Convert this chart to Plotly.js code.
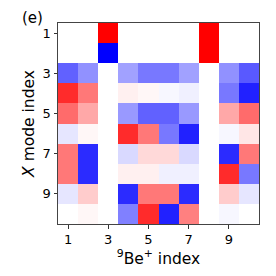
<!DOCTYPE html>
<html><head><meta charset="utf-8">
<script src="https://cdn.plot.ly/plotly-3.0.1.min.js"></script>
<style>body{margin:0;background:#fff}#chart{width:276px;height:276px}</style>
</head><body><div id="chart"></div>
<script>
const ionIndex = [1,2,3,4,5,6,7,8,9,10];
const modeIndex = [1,2,3,4,5,6,7,8,9,10];
const tickVals = [1,3,5,7,9];
const row1  = [0, 0, 1.0, 0, 0, 0, 0, 1.0, 0, 0];
const row2  = [0, 0, -1.0, 0, 0, 0, 0, 1.0, 0, 0];
const row3  = [-0.62, -0.43, 0, -0.37, -0.53, -0.53, -0.37, 0, -0.43, -0.65];
const row4  = [0.83, 0.53, 0, 0.06, 0.03, -0.03, -0.06, 0, -0.53, -0.87];
const row5  = [0.58, 0.34, 0, -0.40, -0.62, -0.62, -0.40, 0, 0.34, 0.58];
const row6  = [-0.10, 0.03, 0, 0.83, 0.53, -0.53, -0.87, 0, -0.03, 0.10];
const row7  = [0.53, -0.83, 0, -0.15, 0.15, 0.15, -0.15, 0, -0.83, 0.53];
const row8  = [0.53, -0.83, 0, 0.06, 0.06, -0.06, -0.06, 0, 0.83, -0.53];
const row9  = [-0.10, 0.20, 0, -0.83, 0.53, 0.53, -0.83, 0, 0.20, -0.10];
const row10 = [0.00, 0.03, 0, -0.50, 0.83, -0.87, 0.50, 0, -0.03, 0.00];
const zValues = [row1,row2,row3,row4,row5,row6,row7,row8,row9,row10];

const font = 'DejaVu Sans, sans-serif';
Plotly.newPlot('chart', [{
  type: 'heatmap',
  x: ionIndex, y: modeIndex, z: zValues,
  zmin: -1, zmax: 1,
  colorscale: [[0,'rgb(0,0,255)'],[0.5,'rgb(255,255,255)'],[1,'rgb(255,0,0)']],
  showscale: false, xgap: 0, ygap: 0, hoverinfo: 'none'
}], {
  width: 276, height: 276,
  margin: {l: 58, r: 17, t: 23, b: 52},
  paper_bgcolor: '#fff', plot_bgcolor: '#fff',
  font: {family: font, color: '#000', size: 13},
  xaxis: {
    range: [0.5, 10.5], tickvals: tickVals, ticks: 'outside', ticklen: 3.5, tickwidth: 0.8,
    tickcolor: '#000', showgrid: false, zeroline: false, showline: true, mirror: true,
    linecolor: '#444', linewidth: 1, tickfont: {size: 13, family: font},
    title: {text: '<sup>9</sup>Be<sup>+</sup> index', font: {size: 15.5, family: font}, standoff: 3}
  },
  yaxis: {
    range: [10.5, 0.5], tickvals: tickVals, ticks: 'outside', ticklen: 3.5, tickwidth: 0.8,
    tickcolor: '#000', showgrid: false, zeroline: false, showline: true, mirror: true,
    linecolor: '#444', linewidth: 1, tickfont: {size: 13, family: font},
    title: {text: '<i>X</i> mode index', font: {size: 15.5, family: font}, standoff: 4}
  },
  annotations: [{
    text: '(e)', xref: 'paper', yref: 'paper', x: -0.125, y: 1.0, xanchor: 'center', yanchor: 'middle',
    yshift: 5, xshift: 0,
    showarrow: false, font: {size: 15, family: font}
  }]
}, {staticPlot: true});
</script></body></html>
